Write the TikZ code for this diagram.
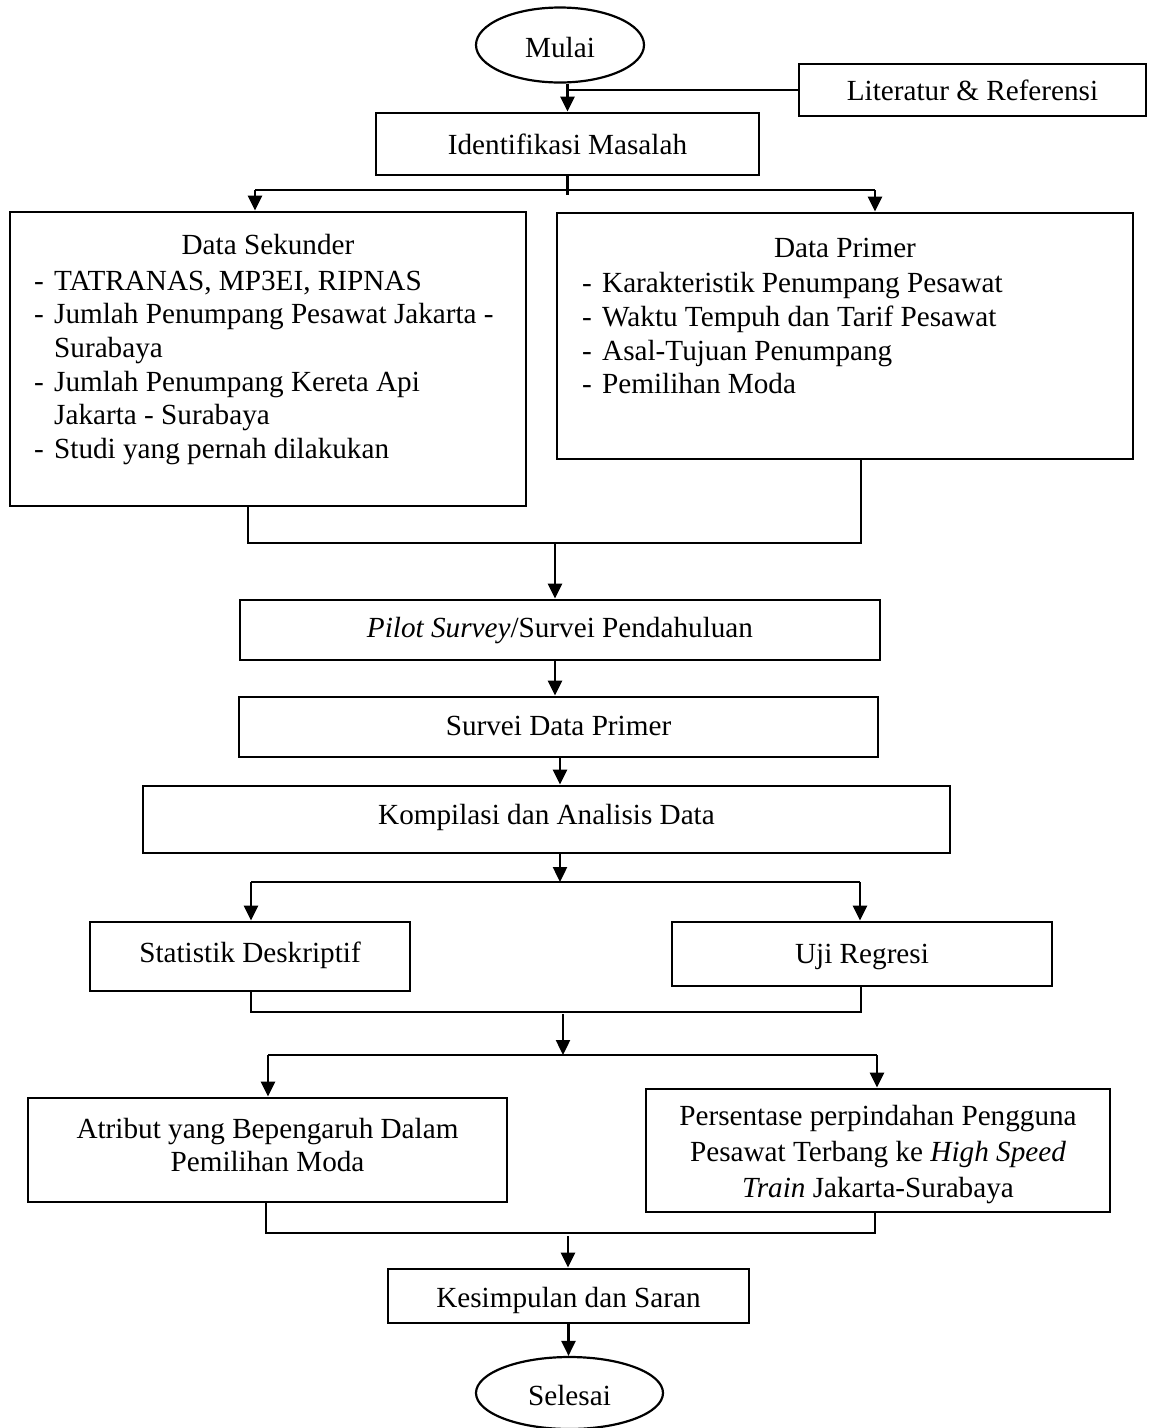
\documentclass[tikz,border=0pt]{standalone}
\usepackage{fontspec}
\setmainfont{Liberation Serif}
\usetikzlibrary{shapes.geometric,arrows.meta}
\begin{document}
\begin{tikzpicture}[x=1pt,y=-1pt,
  box/.style={draw,line width=2.8pt,inner sep=0pt,text depth=4pt,text height=21pt},
  mbox/.style={draw,line width=2.8pt,inner sep=0pt},
  oval/.style={draw,ellipse,line width=2.2pt,inner sep=0pt,text height=30pt,text depth=6pt},
  conn/.style={line width=2.4pt},
  arr/.style={line width=2.4pt,-{Triangle[length=15pt,width=14pt]}},
  txt/.style={inner sep=0pt},
  every node/.style={font=\fontsize{29.2pt}{33.5pt}\selectfont}]
\useasboundingbox (0,0) rectangle (1149,1428);

% top
\node[oval,minimum width=168pt,minimum height=75pt] (mulai) at (560,45) {Mulai};
\node[box,text height=24pt,minimum width=347pt,minimum height=52pt] (lit) at (972.5,90) {Literatur \& Referensi};
\node[box,text height=25pt,minimum width=383pt,minimum height=62pt] (idm) at (567.5,144) {Identifikasi Masalah};
\draw[arr] (idm.north |- mulai.south) -- (idm.north);
\draw[conn] (lit.west) -- (lit.west -| idm.north);

% data boxes
\node[mbox,minimum width=516pt,minimum height=294pt] (sek) at (268,359) {};
\node[mbox,minimum width=576pt,minimum height=246pt] (pri) at (845,336) {};

\coordinate (bl) at (255,190);
\coordinate (br) at (875,190);
\draw[conn] (idm.south) -- ++(0,19);
\draw[conn] (bl) -- (br);
\draw[arr] (bl) -- (bl |- sek.north);
\draw[arr] (br) -- (br |- pri.north);

\node[txt,anchor=base] (sekh) at (268,254) {Data Sekunder};
\node[txt,anchor=base west] (s1) at (34,290) {\makebox[20pt][l]{-}TATRANAS, MP3EI, RIPNAS};
\node[txt,anchor=base west] (s2) at (34,323.5) {\makebox[20pt][l]{-}Jumlah Penumpang Pesawat Jakarta -};
\node[txt,anchor=base west] (s3) at (54,357) {Surabaya};
\node[txt,anchor=base west] (s4) at (34,391) {\makebox[20pt][l]{-}Jumlah Penumpang Kereta Api};
\node[txt,anchor=base west] (s5) at (54,424.5) {Jakarta - Surabaya};
\node[txt,anchor=base west] (s6) at (34,458) {\makebox[20pt][l]{-}Studi yang pernah dilakukan};

\node[txt,anchor=base] (prih) at (845,257) {Data Primer};
\node[txt,anchor=base west] (p1) at (582,292) {\makebox[20pt][l]{-}Karakteristik Penumpang Pesawat};
\node[txt,anchor=base west] (p2) at (582,326) {\makebox[20pt][l]{-}Waktu Tempuh dan Tarif Pesawat};
\node[txt,anchor=base west] (p3) at (582,360) {\makebox[20pt][l]{-}Asal-Tujuan Penumpang};
\node[txt,anchor=base west] (p4) at (582,393) {\makebox[20pt][l]{-}Pemilihan Moda};

% join 1
\coordinate (j1l) at (248,543);
\coordinate (j1r) at (861,543);
\coordinate (j1m) at (555,543);
\draw[conn] (sek.south -| j1l) -- (j1l) -- (j1r) -- (pri.south -| j1r);

\node[box,text height=18pt,minimum width=640pt,minimum height=60pt] (pilot) at (560,630) {\textit{Pilot Survey}/Survei Pendahuluan};
\draw[arr] (j1m) -- (j1m |- pilot.north);

\node[box,text height=20pt,minimum width=639pt,minimum height=60pt] (sdp) at (558.5,727) {Survei Data Primer};
\draw[arr] ([xshift=-5pt]pilot.south) -- ([xshift=-5pt]pilot.south |- sdp.north);

\node[box,text height=13pt,minimum width=807pt,minimum height=67pt] (komp) at (546.5,819.5) {Kompilasi dan Analisis Data};
\draw[arr] ([xshift=1.5pt]sdp.south) -- ([xshift=1.5pt]sdp.south |- komp.north);

% branch 2
\coordinate (b2l) at (251,882);
\coordinate (b2r) at (860,882);
\node[box,text height=15pt,minimum width=320pt,minimum height=69pt] (stat) at (250,956.5) {Statistik Deskriptif};
\node[box,text height=22pt,minimum width=380pt,minimum height=64pt] (uji) at (862,954) {Uji Regresi};
\draw[arr] ([xshift=13.5pt]komp.south) -- ([xshift=13.5pt]komp.south |- b2l);
\draw[conn] (b2l) -- (b2r);
\draw[arr] (b2l) -- (b2l |- stat.north);
\draw[arr] (b2r) -- (b2r |- uji.north);

% join 2
\coordinate (j2l) at (251,1012);
\coordinate (j2r) at (861,1012);
\coordinate (j2m) at (563,1014);
\draw[conn] (stat.south -| j2l) -- (j2l) -- (j2r) -- (uji.south -| j2r);

% branch 3
\coordinate (b3l) at (268,1055);
\coordinate (b3r) at (877,1055);
\node[mbox,minimum width=479pt,minimum height=104pt] (atr) at (267.5,1150) {};
\node[txt,align=center] (atrt) at ([yshift=5pt]atr.center) {Atribut yang Bepengaruh Dalam\\Pemilihan Moda};
\node[mbox,minimum width=464pt,minimum height=123pt] (pers) at (878,1150.5) {};
\node[txt,align=center,font=\fontsize{29.2pt}{36pt}\selectfont] (perst) at ([yshift=-4pt]pers.center) {Persentase perpindahan Pengguna\\Pesawat Terbang ke \textit{High Speed}\\\textit{Train} Jakarta-Surabaya};
\draw[arr] (j2m) -- (j2m |- b3l);
\draw[conn] (b3l) -- (b3r);
\draw[arr] (b3l) -- (b3l |- atr.north);
\draw[arr] (b3r) -- (b3r |- pers.north);

% join 3
\coordinate (j3l) at (266,1233);
\coordinate (j3r) at (875,1233);
\coordinate (j3m) at (568,1236);
\draw[conn] (atr.south -| j3l) -- (j3l) -- (j3r) -- (pers.south -| j3r);

\node[box,text height=26pt,minimum width=361pt,minimum height=54pt] (kes) at (568.5,1296) {Kesimpulan dan Saran};
\draw[arr] (j3m) -- (j3m |- kes.north);

\node[oval,minimum width=187pt,minimum height=72pt] (sel) at (569.5,1393) {Selesai};
\draw[arr] (kes.south) -- (kes.south |- sel.north);
\end{tikzpicture}
\end{document}
